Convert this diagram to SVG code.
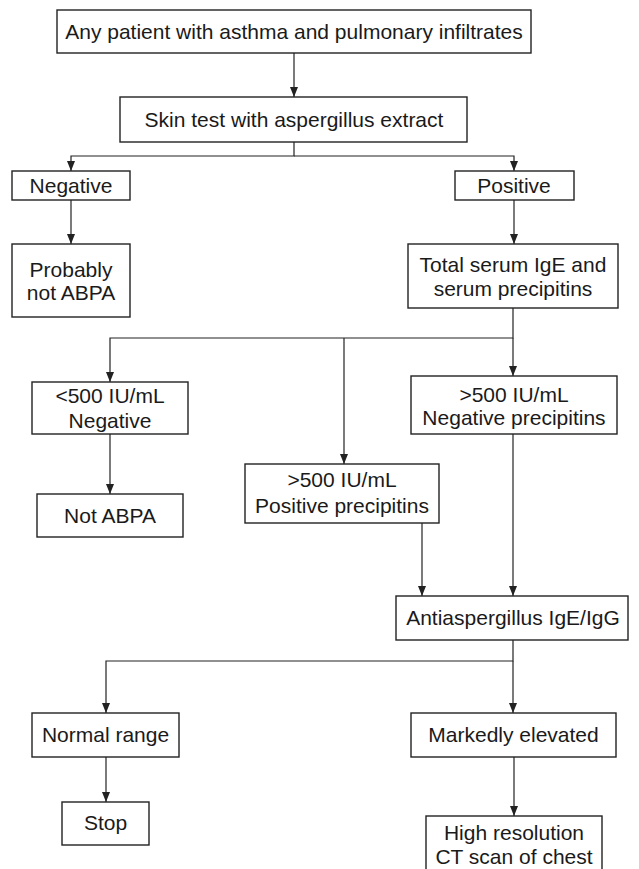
<svg xmlns="http://www.w3.org/2000/svg" width="639" height="869" viewBox="0 0 639 869">
<style>
rect{fill:#fff;stroke:#222;stroke-width:1.4}
text{font-family:"Liberation Sans",Arial,sans-serif;font-size:21px;fill:#1a1a1a;text-anchor:middle}
.c path{fill:none;stroke:#222;stroke-width:1.2}
</style>
<defs>
<marker id="a" markerUnits="userSpaceOnUse" markerWidth="10" markerHeight="8" refX="10" refY="4" orient="auto" viewBox="0 0 10 8">
<path d="M0,0 L10,4 L0,8 z" fill="#222"/>
</marker>
</defs>
<rect x="0" y="0" width="639" height="869" style="fill:#fff;stroke:none"/>
<g class="c" id="connectors">
<path d="M294,53 V97" marker-end="url(#a)"/>
<path d="M294,142 V156 H71 V171" marker-end="url(#a)"/>
<path d="M294,156 H514 V171" marker-end="url(#a)"/>
<path d="M71,200 V244" marker-end="url(#a)"/>
<path d="M514,200 V244" marker-end="url(#a)"/>
<path d="M513,308 V338 H110 V382" marker-end="url(#a)"/>
<path d="M344,338 V464" marker-end="url(#a)"/>
<path d="M513,338 V376" marker-end="url(#a)"/>
<path d="M110,434 V494" marker-end="url(#a)"/>
<path d="M422,523 V596" marker-end="url(#a)"/>
<path d="M513,434 V596" marker-end="url(#a)"/>
<path d="M513,640 V661 H106 V713" marker-end="url(#a)"/>
<path d="M513,661 V713" marker-end="url(#a)"/>
<path d="M106,757 V802" marker-end="url(#a)"/>
<path d="M514,757 V816" marker-end="url(#a)"/>
</g>
<g id="n1"><rect x="57" y="10" width="474" height="43"/><text x="294" y="39">Any patient with asthma and pulmonary infiltrates</text></g>
<g id="n2"><rect x="120" y="97" width="347" height="45"/><text x="294" y="127">Skin test with aspergillus extract</text></g>
<g id="n3"><rect x="12" y="171" width="118" height="29"/><text x="71" y="193">Negative</text></g>
<g id="n4"><rect x="455" y="171" width="119" height="29"/><text x="514" y="193">Positive</text></g>
<g id="n5"><rect x="12" y="244" width="118" height="73"/><text x="71" y="277">Probably</text><text x="71" y="300">not ABPA</text></g>
<g id="n6"><rect x="408" y="244" width="210" height="64"/><text x="513" y="272">Total serum IgE and</text><text x="513" y="296">serum precipitins</text></g>
<g id="n7"><rect x="32" y="382" width="156" height="52"/><text x="110" y="403">&lt;500 IU/mL</text><text x="110" y="428">Negative</text></g>
<g id="n8"><rect x="411" y="376" width="206" height="58"/><text x="514" y="402">&gt;500 IU/mL</text><text x="514" y="425">Negative precipitins</text></g>
<g id="n9"><rect x="37" y="494" width="146" height="43"/><text x="110" y="523">Not ABPA</text></g>
<g id="n10"><rect x="245" y="464" width="194" height="59"/><text x="342" y="487">&gt;500 IU/mL</text><text x="342" y="513">Positive precipitins</text></g>
<g id="n11"><rect x="396" y="596" width="232" height="44"/><text x="513" y="625">Antiaspergillus IgE/IgG</text></g>
<g id="n12"><rect x="32" y="713" width="147" height="44"/><text x="105.5" y="742">Normal range</text></g>
<g id="n13"><rect x="411" y="713" width="205" height="44"/><text x="513.5" y="742">Markedly elevated</text></g>
<g id="n14"><rect x="62" y="802" width="87" height="43"/><text x="105.5" y="830">Stop</text></g>
<g id="n15"><rect x="426" y="816" width="176" height="60"/><text x="514" y="840">High resolution</text><text x="514" y="864">CT scan of chest</text></g>
</svg>
